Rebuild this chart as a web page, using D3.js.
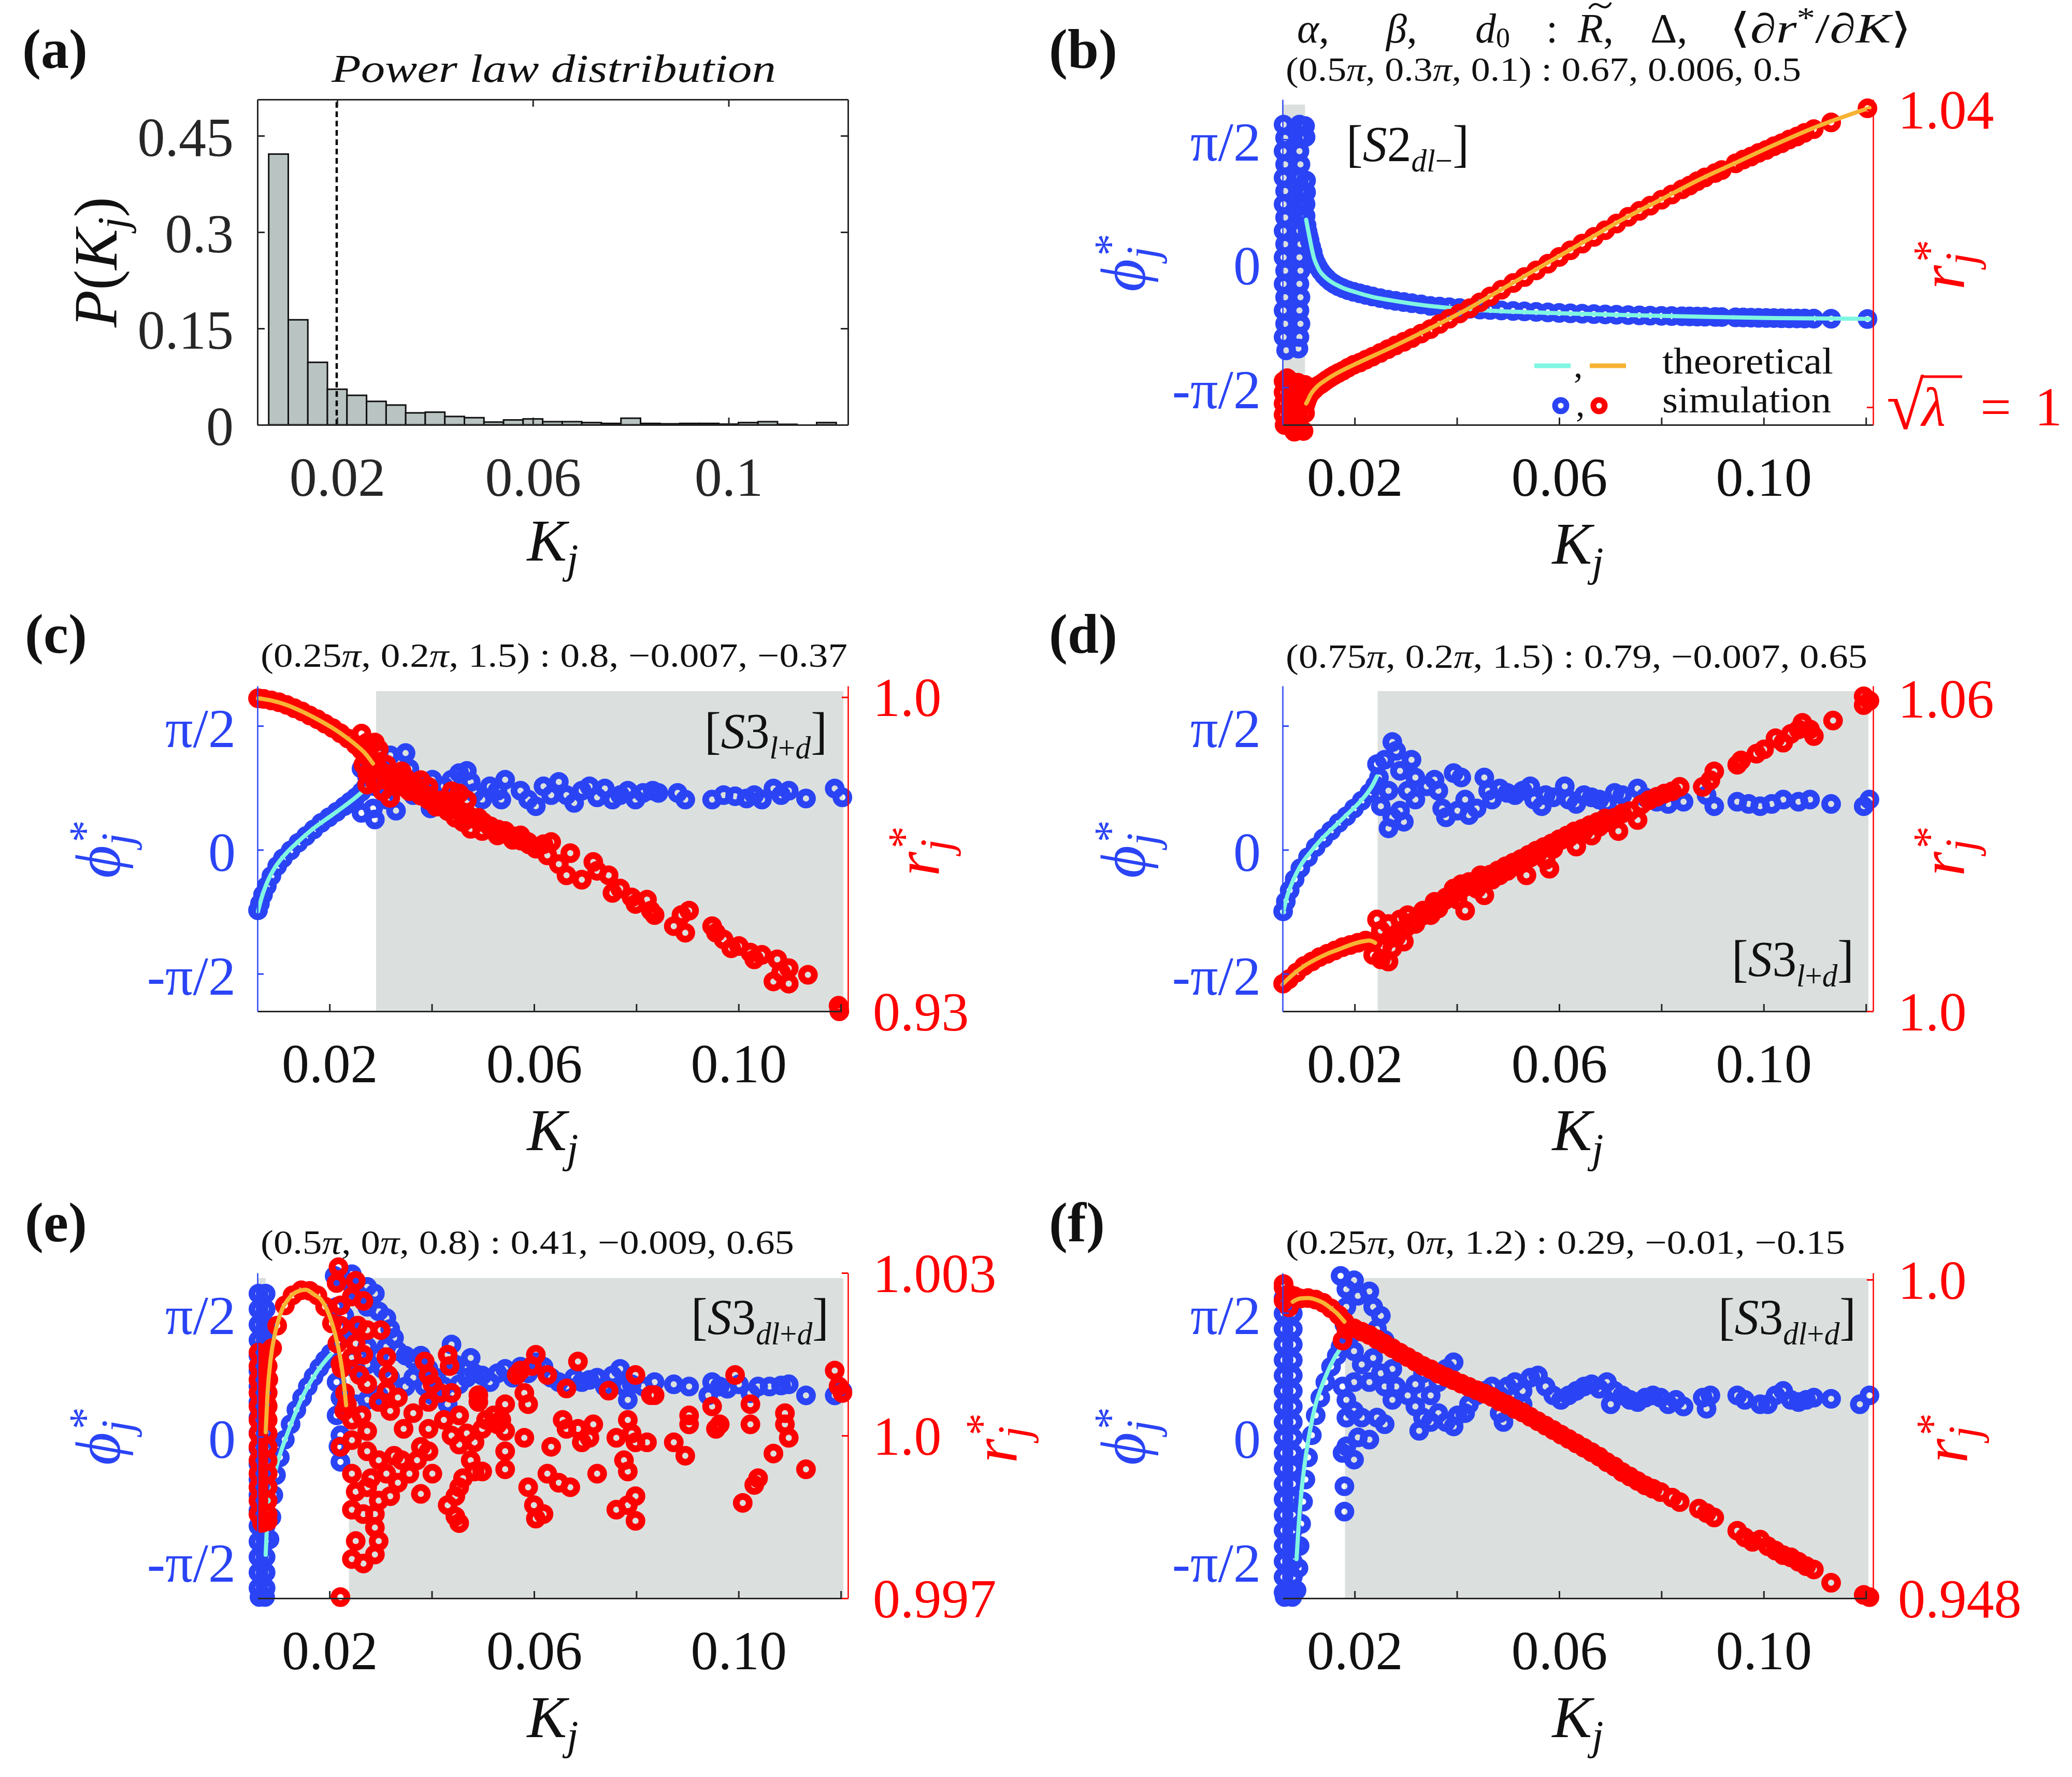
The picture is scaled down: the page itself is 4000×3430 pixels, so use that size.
<!DOCTYPE html>
<html>
<head>
<meta charset="utf-8">
<script src="https://cdn.jsdelivr.net/npm/d3@7/dist/d3.min.js"></script>
<style>
html,body{margin:0;padding:0;background:#fff;}
svg{display:block;}
</style>
</head>
<body>
<svg id="chart" width="4000" height="3430" xmlns="http://www.w3.org/2000/svg"></svg>
<script>
// ======================= DATA =======================
// (a) histogram of coupling strengths
const histBinStart = [0.006,0.010,0.014,0.018,0.022,0.026,0.030,0.034,0.038,0.042,0.046,0.050,0.054,0.058,0.062,0.066,0.070,0.074,0.078,0.082,0.086,0.090,0.094,0.098,0.102,0.106,0.110,0.114,0.118];
const histBinWidth = 0.004;
const histP = [0.4215,0.1635,0.0973,0.0554,0.0459,0.0365,0.0308,0.0186,0.0197,0.0130,0.0111,0.0043,0.0076,0.0092,0.0049,0.0049,0.0035,0.0022,0.0103,0.0022,0.0016,0.0022,0.0022,0.0011,0.0035,0.0049,0.0008,0.0,0.0035];
const histMeanK = 0.0199;
const histKDomain = [0.0037, 0.1244];
const histPDomain = [0, 0.5065];
const histXTicks = [0.02, 0.06, 0.1];
const histYTicks = [0, 0.15, 0.3, 0.45];

// common axes of panels (b)-(f)
const kDomain = [0.0059, 0.1214];
const phiDomain = [-2.046, 2.077];
const kTicks = [0.02, 0.04, 0.06, 0.08, 0.10, 0.12];
const kTickLabelled = [0.02, 0.06, 0.10];
const phiTicks = [-Math.PI/2, 0, Math.PI/2];
const phiTickLabels = ["-π/2", "0", "π/2"];
const bandTopPhi = 2.012;

// ---------- (b) ----------
const bSimPhi = [
[0.0061,1.759],[0.0092,1.759],[0.0103,1.74],[0.0064,1.590],[0.0094,1.590],[0.0104,1.60],
[0.0061,1.422],[0.0092,1.422],[0.0064,1.254],[0.0094,1.254],[0.0061,1.086],[0.0092,1.086],[0.0105,1.05],
[0.0064,0.917],[0.0094,0.917],[0.0105,0.90],[0.0061,0.749],[0.0092,0.749],[0.0104,0.75],
[0.0064,0.581],[0.0094,0.581],[0.0061,0.412],[0.0092,0.412],[0.0064,0.244],[0.0094,0.244],
[0.0061,0.076],[0.0092,0.076],[0.0064,-0.093],[0.0094,-0.093],[0.0061,-0.261],[0.0092,-0.261],
[0.0064,-0.429],[0.0094,-0.429],[0.0061,-0.597],[0.0092,-0.597],[0.0064,-0.766],[0.0094,-0.766],
[0.0061,-0.934],[0.0092,-0.934],[0.0066,-1.102],[0.0090,-1.08],
[0.0104,0.60],[0.0106,0.48],[0.0108,0.40],[0.0110,0.34],[0.0112,0.29],[0.0115,0.21],[0.0118,0.14],[0.0121,0.06],[0.0125,0.00],[0.0129,-0.05],[0.0134,-0.10],[0.0140,-0.15],[0.0146,-0.19],[0.0153,-0.23],[0.0160,-0.26],[0.0168,-0.29],[0.0177,-0.315],[0.0187,-0.34],[0.0198,-0.36],[0.0210,-0.38],[0.0222,-0.40],[0.0235,-0.42],[0.0250,-0.44],[0.0265,-0.46],[0.0280,-0.475],[0.0296,-0.49],[0.0312,-0.505],[0.0330,-0.52],[0.0348,-0.54],[0.0366,-0.548],[0.0385,-0.556],[0.0405,-0.566],[0.0425,-0.575],[0.0445,-0.585],[0.0465,-0.59],[0.0487,-0.597],[0.0510,-0.603],[0.0532,-0.609],[0.0555,-0.615],[0.0578,-0.622],[0.0600,-0.628],[0.0622,-0.633],[0.0645,-0.638],[0.0668,-0.643],[0.0690,-0.647],[0.0712,-0.651],[0.0735,-0.655],[0.0757,-0.659],[0.0778,-0.663],[0.0800,-0.665],[0.0820,-0.668],[0.0840,-0.670],[0.0855,-0.672],[0.0870,-0.674],[0.0885,-0.676],[0.0905,-0.679],[0.0918,-0.680],[0.0945,-0.684],[0.0960,-0.686],[0.0975,-0.688],[0.0990,-0.690],[0.1005,-0.692],[0.1020,-0.693],[0.1035,-0.695],[0.1050,-0.697],[0.1065,-0.698],[0.1080,-0.699],[0.1098,-0.700],[0.1132,-0.702],[0.1203,-0.705]
];
const bSimR = [
[0.0061,1.0035],[0.0068,1.0039],[0.0075,1.0035],[0.0089,1.0033],[0.0103,1.0030],
[0.0061,1.0020],[0.0075,1.0020],[0.0089,1.0020],[0.0103,1.0018],
[0.0061,1.0005],[0.0075,1.0005],[0.0089,1.0005],[0.0103,1.0005],
[0.0061,0.9990],[0.0075,0.9990],[0.0089,0.9990],[0.0103,0.9992],
[0.0063,0.9976],[0.0075,0.9975],[0.0089,0.9972],[0.0100,0.9968],[0.0082,0.9967],
[0.0104,1.0004],[0.0106,1.0008],[0.0108,1.0012],[0.0110,1.0015],[0.0112,1.0018],[0.0115,1.0020],[0.0118,1.0022],[0.0121,1.0024],[0.0125,1.0027],[0.0129,1.0029],[0.0134,1.0031],[0.0140,1.0034],[0.0146,1.0037],[0.0153,1.0040],[0.0160,1.0043],[0.0168,1.0046],[0.0177,1.0049],[0.0187,1.0053],[0.0198,1.0057],[0.0210,1.0060],[0.0222,1.0064],[0.0235,1.0068],[0.0250,1.0073],[0.0265,1.0078],[0.0280,1.0083],[0.0296,1.0088],[0.0312,1.0093],[0.0330,1.0099],[0.0348,1.0105],[0.0366,1.0112],[0.0385,1.0119],[0.0405,1.0126],[0.0425,1.0133],[0.0445,1.0141],[0.0465,1.0149],[0.0487,1.0158],[0.0510,1.0167],[0.0532,1.0175],[0.0555,1.0184],[0.0578,1.0193],[0.0600,1.0202],[0.0622,1.0211],[0.0645,1.0220],[0.0668,1.0229],[0.0690,1.0238],[0.0712,1.0247],[0.0735,1.0256],[0.0757,1.0264],[0.0778,1.0271],[0.0800,1.0279],[0.0820,1.0286],[0.0840,1.0293],[0.0855,1.0298],[0.0870,1.0304],[0.0885,1.0309],[0.0905,1.0315],[0.0918,1.0319],[0.0945,1.0328],[0.0960,1.0333],[0.0975,1.0337],[0.0990,1.0342],[0.1005,1.0346],[0.1020,1.0351],[0.1035,1.0355],[0.1050,1.0360],[0.1065,1.0364],[0.1080,1.0369],[0.1098,1.0374],[0.1132,1.0383],[0.1203,1.0402]
];
const bTheoryPhi = [[0.01051,0.553],[0.01090,0.42],[0.01126,0.300],[0.01160,0.19],[0.01201,0.0757],[0.01250,-0.01],[0.01313,-0.0926],[0.01400,-0.16],[0.01538,-0.2328],[0.01750,-0.305],[0.01988,-0.359],[0.02350,-0.425],[0.02737,-0.471],[0.03487,-0.541],[0.04236,-0.583],[0.05735,-0.626],[0.07234,-0.654],[0.08733,-0.676],[0.10232,-0.693],[0.12069,-0.704]];
const bTheoryR = [[0.01051,1.00051],[0.01090,1.0010],[0.01126,1.00155],[0.01238,1.00259],[0.01463,1.00378],[0.01763,1.00497],[0.01988,1.00572],[0.02737,1.0081],[0.03487,1.01063],[0.04236,1.01331],[0.04986,1.01629],[0.05735,1.01927],[0.06485,1.02224],[0.07234,1.02522],[0.07984,1.0279],[0.08733,1.03058],[0.09483,1.03297],[0.10232,1.03535],[0.10982,1.03758],[0.12069,1.04026]];

// ---------- (c) ----------
const cSimPhi = [
[0.00601,-0.766],[0.00639,-0.682],[0.00699,-0.569],[0.00774,-0.457],[0.00863,-0.331],[0.00976,-0.205],[0.01088,-0.107],[0.01238,-0.008],[0.01388,0.090],[0.01538,0.174],[0.01688,0.258],[0.01838,0.342],[0.01988,0.412],[0.02138,0.482],[0.02288,0.553],[0.0240,0.609],[0.02512,0.665],[0.02625,0.735],[0.0270,0.791],
[0.02625,1.029],[0.02737,1.086],[0.02962,1.226],[0.03187,1.198],[0.03487,1.226],[0.03562,1.029],[0.03337,0.889],[0.02737,0.917],[0.02887,0.805],[0.02625,0.468],[0.0285,0.525],[0.02887,0.384],[0.0330,0.496],[0.03112,0.637],[0.03637,0.693],[0.03786,0.861],[0.04011,0.889],[0.04086,0.637],[0.03974,0.525],[0.04236,0.805],[0.04386,0.889],[0.04536,0.973],[0.04686,1.001],[0.04761,0.861],[0.04836,0.721],[0.04986,0.637],[0.05136,0.805],[0.05285,0.749],[0.05435,0.889],[0.0536,0.637],[0.05735,0.749],[0.05885,0.637],[0.06035,0.553],[0.06185,0.805],[0.06335,0.693],[0.06485,0.861],[0.06635,0.693],[0.06784,0.595],[0.06934,0.749],[0.07084,0.805],[0.07234,0.665],[0.07384,0.777],[0.07534,0.637],[0.07684,0.693],[0.07834,0.749],[0.07984,0.637],[0.08134,0.721],[0.08321,0.749],[0.08433,0.721],[0.08808,0.721],[0.08958,0.637],[0.09483,0.637],[0.09707,0.693],[0.09932,0.679],[0.10157,0.651],[0.10307,0.693],[0.10457,0.637],[0.10682,0.777],[0.10832,0.693],[0.10982,0.749],[0.11319,0.651],[0.11881,0.777],[0.12031,0.665]
];
const cSimR = [
[0.00601,0.99975],[0.00714,0.99961],[0.00863,0.99926],[0.01013,0.99887],[0.01163,0.99827],[0.01313,0.99754],[0.01463,0.9968],[0.01613,0.99591],[0.01763,0.99507],[0.01913,0.99408],[0.02063,0.9931],[0.02213,0.99196],[0.02362,0.99078],[0.02512,0.9894],[0.02625,0.98817],[0.02737,0.98669],[0.02812,0.98546],
[0.02625,0.99187],[0.02737,0.98989],[0.02887,0.98989],[0.02962,0.98841],[0.02662,0.98496],[0.02737,0.98299],[0.02887,0.98102],[0.02962,0.98398],[0.03112,0.98496],[0.03262,0.98299],[0.03337,0.98003],[0.03037,0.97905],[0.03187,0.97757],[0.03487,0.982],[0.03637,0.98102],[0.03786,0.98151],[0.03936,0.98003],[0.03786,0.97806],[0.03936,0.97708],[0.04086,0.9756],[0.04236,0.97708],[0.04386,0.97905],[0.04536,0.97855],[0.04686,0.97708],[0.04311,0.97461],[0.04461,0.97313],[0.04611,0.97215],[0.04761,0.97067],[0.04911,0.97313],[0.04986,0.97017],[0.05136,0.97116],[0.05285,0.96919],[0.05435,0.97017],[0.05585,0.9682],[0.05735,0.96919],[0.05885,0.96771],[0.06035,0.96623],[0.06185,0.96722],[0.06335,0.96771],[0.0626,0.96475],[0.06485,0.96278],[0.06709,0.96524],[0.06635,0.96031],[0.06934,0.95933],[0.07159,0.96327],[0.07234,0.9613],[0.07459,0.96031],[0.07534,0.95637],[0.07684,0.95736],[0.07909,0.95538],[0.07984,0.95391],[0.08209,0.95489],[0.08284,0.95243],[0.08358,0.95144],[0.08733,0.94897],[0.08883,0.95144],[0.09033,0.95243],[0.08958,0.9475],[0.09483,0.94897],[0.09558,0.9475],[0.09707,0.94602],[0.09857,0.94404],[0.10007,0.94454],[0.10232,0.94306],[0.10307,0.94158],[0.10457,0.94257],[0.10682,0.93665],[0.10757,0.94158],[0.10832,0.93862],[0.10982,0.93616],[0.10982,0.93961],[0.11357,0.93813],[0.11956,0.93123],[0.11971,0.93],
[0.02812,0.98348],[0.03112,0.98151],[0.03412,0.98348],[0.03562,0.97905],[0.02737,0.98052],
[0.0290,0.9845],[0.0305,0.9832],[0.0320,0.9822],[0.0335,0.9815],[0.0350,0.9808],[0.0365,0.9795],[0.0380,0.9788],[0.0395,0.9780],[0.0410,0.9770],[0.0425,0.9762],[0.0440,0.9752],[0.0455,0.9745],[0.0470,0.9738],[0.0485,0.9728],[0.0500,0.9722],[0.0515,0.9712],[0.0530,0.9705],[0.0545,0.9695],[0.0560,0.9690],[0.0575,0.9680],[0.0590,0.9672],[0.0605,0.9665]
];
const cTheoryPhi = [[0.00601,-0.780],[0.00676,-0.597],[0.00788,-0.401],[0.00938,-0.219],[0.01163,-0.036],[0.01388,0.104],[0.01688,0.272],[0.01988,0.412],[0.02288,0.553],[0.02512,0.665],[0.02737,0.791]];
const cTheoryR = [[0.00601,0.99975],[0.00863,0.99926],[0.01163,0.99827],[0.01463,0.9968],[0.01763,0.99507],[0.02063,0.9931],[0.02288,0.99137],[0.02512,0.9894],[0.0270,0.98743],[0.0285,0.98521]];

// ---------- (d) ----------
const dSimPhi = [
[0.00601,-0.780],[0.00654,-0.654],[0.00729,-0.513],[0.00826,-0.373],[0.00938,-0.233],[0.01088,-0.093],[0.01238,0.034],[0.01388,0.146],[0.01538,0.244],[0.01688,0.342],[0.01838,0.426],[0.01988,0.524],[0.02138,0.623],[0.02288,0.721],[0.0240,0.819],[0.02475,0.917],
[0.02437,1.086],[0.02587,1.142],[0.02737,1.366],[0.02812,1.254],[0.02887,1.001],[0.03112,1.142],[0.03187,0.917],[0.03037,0.749],[0.02662,0.749],[0.02512,0.553],[0.02737,0.412],[0.02887,0.496],[0.02962,0.356],[0.02662,0.272],[0.03187,0.637],[0.03412,0.805],[0.03562,0.889],[0.03637,0.749],[0.03712,0.525],[0.03786,0.412],[0.03936,0.973],[0.04086,0.917],[0.04161,0.637],[0.04011,0.496],[0.04236,0.440],[0.04386,0.525],[0.04536,0.917],[0.04611,0.749],[0.04686,0.637],[0.04836,0.777],[0.04986,0.721],[0.05136,0.693],[0.05285,0.749],[0.05435,0.805],[0.0551,0.637],[0.0566,0.553],[0.05735,0.693],[0.05885,0.665],[0.0611,0.805],[0.06185,0.637],[0.06335,0.581],[0.06485,0.693],[0.06635,0.665],[0.06784,0.637],[0.06934,0.581],[0.07084,0.721],[0.07234,0.693],[0.07534,0.777],[0.07684,0.665],[0.07909,0.609],[0.08134,0.581],[0.08433,0.609],[0.08883,0.693],[0.09033,0.553],[0.09483,0.609],[0.09707,0.581],[0.09932,0.553],[0.10157,0.581],[0.10382,0.637],[0.10682,0.609],[0.10907,0.637],[0.11319,0.581],[0.11956,0.553],[0.12069,0.637]
];
const dSimR = [
[0.00601,1.0053],[0.00714,1.00615],[0.00863,1.00742],[0.01013,1.00869],[0.01163,1.00954],[0.01313,1.01039],[0.01463,1.01102],[0.01613,1.01166],[0.01763,1.0123],[0.01913,1.01272],[0.02063,1.01314],[0.02213,1.01357],[0.02362,1.01336],
[0.02362,1.01081],[0.02512,1.00996],[0.02662,1.00954],[0.02737,1.01208],[0.02512,1.01548],[0.02437,1.0176],[0.02662,1.01675],[0.02812,1.0142],[0.02962,1.01336],[0.02887,1.0176],[0.03037,1.01844],[0.03187,1.01675],[0.03337,1.01929],[0.03487,1.01844],[0.03562,1.02099],[0.03637,1.01972],[0.03786,1.02184],[0.03936,1.02353],[0.04011,1.02141],[0.04161,1.01929],[0.04086,1.02438],[0.04236,1.0248],[0.04386,1.02353],[0.04536,1.02226],[0.04461,1.02608],[0.04686,1.02523],[0.04836,1.02608],[0.04986,1.02692],[0.05136,1.02777],[0.05285,1.02862],[0.0536,1.02608],[0.05435,1.02947],[0.05585,1.03032],[0.05735,1.02904],[0.0581,1.02735],[0.05885,1.03116],[0.06035,1.03286],[0.06185,1.03328],[0.06335,1.03159],[0.0641,1.03413],[0.06485,1.03456],[0.06635,1.03371],[0.06784,1.0354],[0.06934,1.03625],[0.07084,1.0371],[0.07159,1.03456],[0.07234,1.03795],[0.07384,1.03837],[0.07534,1.03668],[0.07609,1.03964],[0.07759,1.04049],[0.07909,1.04113],[0.08059,1.04176],[0.08209,1.04219],[0.08358,1.04304],[0.08808,1.04304],[0.08958,1.04431],[0.09033,1.046],[0.09483,1.04728],[0.09558,1.04812],[0.09857,1.0494],[0.10007,1.05024],[0.10232,1.05236],[0.10382,1.05152],[0.10532,1.05321],[0.10682,1.05406],[0.10757,1.05533],[0.10907,1.05406],[0.10982,1.05279],[0.11357,1.05576],[0.11956,1.05872],[0.11956,1.06042],[0.12069,1.05957],
[0.0255,1.0125],[0.0270,1.0140],[0.0285,1.0150],[0.0300,1.0160],[0.0315,1.0172],[0.0330,1.0182],[0.0345,1.0192],[0.0360,1.0205],[0.0375,1.0212],[0.0390,1.0222],[0.0405,1.0230],[0.0420,1.0240],[0.0435,1.0248],[0.0450,1.0255],[0.0465,1.0262],[0.0480,1.0270],[0.0495,1.0278],[0.0510,1.0285],[0.0525,1.0292],[0.0540,1.0300],[0.0555,1.0308],[0.0570,1.0315],[0.0585,1.0322],[0.0600,1.0330],[0.0615,1.0337],[0.0630,1.0345],[0.0645,1.0350],[0.0660,1.0357],[0.0675,1.0363],[0.0690,1.0370]
];
const dTheoryPhi = [[0.00601,-0.794],[0.00676,-0.597],[0.00788,-0.401],[0.00938,-0.205],[0.01163,-0.008],[0.01388,0.160],[0.01613,0.300],[0.01838,0.440],[0.02063,0.581],[0.0225,0.721],[0.02362,0.833],[0.02437,0.931]];
const dTheoryR = [[0.00601,1.0053],[0.00788,1.007],[0.01013,1.00869],[0.01238,1.00996],[0.01463,1.01102],[0.01688,1.01187],[0.01913,1.01272],[0.02138,1.01336],[0.02288,1.01357],[0.0240,1.01314]];

// ---------- (e) ----------
const eSimPhi = [
[0.0061,1.815],[0.0075,1.815],[0.0061,1.618],[0.0075,1.618],[0.0061,1.422],[0.0075,1.422],[0.0061,1.226],[0.0075,1.226],[0.0061,1.029],[0.0075,1.029],[0.0061,0.833],[0.0075,0.833],[0.0061,0.637],[0.0075,0.637],[0.0061,0.440],[0.0075,0.440],[0.0061,0.244],[0.0075,0.244],[0.0061,0.048],[0.0075,0.048],[0.0061,-0.149],[0.0075,-0.149],[0.0061,-0.345],[0.0075,-0.345],[0.0061,-0.541],[0.0075,-0.541],[0.0061,-0.738],[0.0075,-0.738],[0.0061,-0.934],[0.0075,-0.934],[0.0061,-1.130],[0.0075,-1.130],[0.0061,-1.327],[0.0075,-1.327],[0.0061,-1.523],[0.0075,-1.523],[0.0061,-1.719],[0.0075,-1.719],[0.0061,-1.916],[0.0075,-1.916],[0.0063,-2.03],[0.0074,-2.03],
[0.00826,-1.299],[0.00863,-1.018],[0.00901,-0.738],[0.00953,-0.485],[0.01028,-0.261],[0.01126,-0.036],[0.01238,0.160],[0.01351,0.342],[0.01463,0.496],[0.01575,0.637],[0.01688,0.763],[0.0180,0.875],[0.01913,0.973],[0.02025,1.058],
[0.0210,2.039],[0.02288,1.983],[0.02437,2.06],[0.02475,1.871],[0.02587,1.787],[0.02737,1.899],[0.02887,1.815],[0.02737,1.647],[0.02962,1.590],[0.03112,1.506],[0.03187,1.366],[0.03262,1.254],[0.03112,1.142],[0.03337,1.086],[0.02962,1.029],[0.02737,1.142],[0.02437,1.366],[0.02288,1.534],[0.02138,1.647],[0.02213,1.226],[0.02437,1.001],[0.02512,0.861],[0.02737,0.917],[0.03037,0.861],[0.02138,0.693],[0.02213,0.496],[0.02138,0.272],[0.02213,0.020],[0.02213,-0.317],[0.02175,-0.121],[0.02512,0.412],[0.02737,0.468],[0.02962,0.525],[0.03187,0.749],[0.03487,1.029],[0.03637,0.973],[0.03786,1.029],[0.03936,0.861],[0.04086,0.749],[0.04236,0.637],[0.04386,1.170],[0.04461,0.917],[0.04311,0.412],[0.04011,0.525],[0.03861,0.637],[0.03637,0.749],[0.03487,0.637],[0.04536,0.665],[0.04686,0.749],[0.04761,1.001],[0.04836,0.805],[0.04986,0.777],[0.05136,0.693],[0.05285,0.805],[0.05435,0.861],[0.05585,0.749],[0.05735,0.889],[0.05885,0.805],[0.06035,0.945],[0.06185,0.889],[0.06335,0.749],[0.06485,0.693],[0.06635,0.637],[0.06784,0.749],[0.06934,0.693],[0.07084,0.721],[0.07234,0.749],[0.07384,0.637],[0.07534,0.777],[0.07684,0.861],[0.07759,0.637],[0.07834,0.468],[0.07909,0.665],[0.08134,0.637],[0.08358,0.693],[0.08733,0.665],[0.09033,0.637],[0.09408,0.525],[0.09483,0.693],[0.09632,0.637],[0.09782,0.609],[0.10007,0.665],[0.10232,0.553],[0.10382,0.637],[0.10607,0.637],[0.10832,0.651],[0.10982,0.665],[0.11319,0.525],[0.11881,0.525],[0.12031,0.581]
];
const eSimR = [
[0.0061,1.00153],[0.0079,1.00153],[0.0061,1.00128],[0.0079,1.00128],[0.0061,1.00103],[0.0079,1.00103],[0.0061,1.00079],[0.0079,1.00079],[0.0061,1.00054],[0.0079,1.00054],[0.0061,1.00029],[0.0079,1.00029],[0.0061,1.00004],[0.0079,1.00004],[0.0061,0.99979],[0.0079,0.99979],[0.0061,0.99954],[0.0079,0.99954],[0.0061,0.9993],[0.0079,0.9993],[0.0061,0.99905],[0.0079,0.99905],[0.0061,0.9988],[0.0079,0.9988],[0.0061,0.99855],[0.0079,0.99855],[0.0068,0.99839],[0.0079,0.99842],
[0.00751,1.000372],[0.00774,1.000579],[0.00803,1.001035],[0.00878,1.001614],[0.00976,1.002028],[0.01126,1.0024],[0.01276,1.002586],[0.01448,1.002681],[0.01613,1.002669],[0.01763,1.002586],[0.01913,1.002379],[0.02048,1.002069],[0.02153,1.001697],[0.02235,1.001242],[0.02303,1.000786],[0.0234,1.000579],
[0.02175,1.003104],[0.02138,1.002814],[0.02512,1.002855],[0.02437,1.002566],[0.02662,1.002483],[0.02213,1.0024],[0.02213,1.002028],[0.0255,1.002028],[0.02737,1.001945],[0.0300,1.001945],[0.02512,1.001697],[0.02213,1.001324],[0.02437,1.001448],[0.02662,1.00149],[0.02587,1.001117],[0.02737,1.000952],[0.03112,1.001448],[0.03149,1.001117],[0.03112,1.000828],[0.02288,1.000455],[0.02437,1.00029],[0.02625,1.000372],[0.02737,1.000083],[0.02962,1.000621],[0.03187,1.000455],[0.02213,0.999793],[0.02437,0.999917],[0.02737,0.99971],[0.02962,0.999545],[0.02812,0.999214],[0.02437,0.999297],[0.02512,0.998965],[0.02737,0.999048],[0.03112,0.999297],[0.03262,0.999628],[0.03412,0.999545],[0.03337,0.999131],[0.03562,0.999297],[0.03187,0.998883],[0.02962,0.9988],[0.02887,0.998552],[0.02662,0.998552],[0.02437,0.998634],[0.02887,0.998303],[0.02962,0.998055],[0.02512,0.998055],[0.02437,0.997724],[0.02662,0.997641],[0.02887,0.997807],[0.02213,0.997021],
[0.03337,1.000703],[0.03449,1.000124],[0.03637,1.000414],[0.03861,1.001366],[0.03936,1.001117],[0.04011,1.000952],[0.03936,1.000621],[0.04161,1.000786],[0.04236,1.00029],[0.03936,1.000124],[0.03786,0.999793],[0.03936,0.99971],[0.03712,0.999545],[0.04011,0.999297],[0.03786,0.998924],[0.04311,1.00149],[0.04349,1.001283],[0.04386,1.000786],[0.04536,1.000372],[0.04386,1.0],[0.04536,0.999834],[0.04686,1.000041],[0.04836,0.999876],[0.04761,0.999545],[0.04836,0.999338],[0.04986,0.999338],[0.04611,0.999214],[0.04536,0.999048],[0.04461,0.998883],[0.04311,0.998717],[0.04461,0.99851],[0.04536,0.998386],[0.04911,1.000745],[0.04911,1.000621],[0.05061,1.00029],[0.0521,1.000372],[0.05285,1.000207],[0.04986,1.000124],[0.05435,1.000579],[0.05435,1.000083],[0.0536,1.00029],[0.05435,0.99971],[0.05435,0.999379],[0.0581,0.999959],[0.0566,1.001117],[0.05735,1.0012],[0.0581,1.000786],[0.05885,1.000579],[0.06035,1.00149],[0.0596,1.001283],[0.0626,1.001117],[0.05885,0.999048],[0.05997,0.998717],[0.06035,0.998469],[0.06185,0.998552],[0.0626,0.999297],[0.06335,0.999793],[0.06485,0.999131],[0.06709,0.999048],[0.06635,1.000869],[0.0656,1.00029],[0.06635,1.000124],[0.06859,1.000124],[0.06934,0.999876],[0.07159,1.000207],[0.07084,0.999959],[0.07234,0.999297],[0.07459,1.000828],[0.07609,0.999959],[0.07834,1.00029],[0.07909,1.000041],[0.07984,0.999876],[0.08209,0.999876],[0.07759,0.999545],[0.07834,0.999338],[0.07984,1.001117],[0.08284,1.000745],[0.08358,1.000745],[0.07984,0.998883],[0.07834,0.998717],[0.07609,0.998634],[0.07984,0.998428],[0.06859,1.001366],[0.08733,0.999876],[0.08958,0.999628],[0.09033,1.000372],[0.09033,1.000207],[0.09483,1.000538],[0.09632,1.000207],[0.09558,1.000124],[0.09932,1.001117],[0.10232,1.000579],[0.10232,1.000207],[0.10382,0.999214],[0.10307,0.99909],[0.10082,0.998759],[0.10682,0.999669],[0.10907,1.000414],[0.10907,1.000207],[0.10982,0.999959],[0.11319,0.999379],[0.11881,1.0012],[0.11956,1.00091],[0.12031,1.000786]
];
const eTheoryPhi = [[0.00751,-1.495],[0.00774,-1.158],[0.00826,-0.822],[0.00901,-0.541],[0.01013,-0.261],[0.01163,0.020],[0.01313,0.272],[0.01463,0.496],[0.01613,0.679],[0.01763,0.833],[0.01913,0.959],[0.02025,1.043]];
const eTheoryR = [[0.00751,1.000062],[0.00788,1.000786],[0.00848,1.001407],[0.00938,1.001903],[0.01051,1.002276],[0.01201,1.002524],[0.01351,1.002648],[0.01538,1.00269],[0.01688,1.002607],[0.01838,1.002503],[0.01988,1.002235],[0.0210,1.001903],[0.02198,1.00149],[0.02272,1.001035],[0.02325,1.000559]];

// ---------- (f) ----------
const fSimPhi = [
[0.0061,1.759],[0.0079,1.759],[0.0061,1.562],[0.0079,1.562],[0.0061,1.366],[0.0079,1.366],[0.0061,1.170],[0.0079,1.170],[0.0061,0.973],[0.0079,0.973],[0.0061,0.777],[0.0079,0.777],[0.0061,0.581],[0.0079,0.581],[0.0061,0.384],[0.0079,0.384],[0.0061,0.188],[0.0079,0.188],[0.0061,-0.008],[0.0079,-0.008],[0.0061,-0.205],[0.0079,-0.205],[0.0061,-0.401],[0.0079,-0.401],[0.0061,-0.597],[0.0079,-0.597],[0.0061,-0.794],[0.0079,-0.794],[0.0061,-0.990],[0.0079,-0.990],[0.0061,-1.186],[0.0079,-1.186],[0.0061,-1.383],[0.0079,-1.383],[0.0061,-1.579],[0.0079,-1.579],[0.0061,-1.776],[0.0079,-1.776],[0.0061,-1.972],[0.0079,-1.972],[0.0063,-2.03],[0.0078,-2.03],
[0.00863,-1.944],[0.00901,-1.663],[0.00923,-1.383],[0.00953,-1.102],[0.00991,-0.822],[0.01036,-0.541],[0.01088,-0.261],[0.01163,0.020],[0.01238,0.272],[0.01328,0.496],[0.01426,0.693],[0.01538,0.889],[0.0165,1.029],[0.01725,1.142],
[0.01725,2.039],[0.01988,1.983],[0.01838,1.871],[0.02063,1.787],[0.02288,1.843],[0.02362,1.647],[0.02512,1.534],[0.02437,1.366],[0.02587,1.226],[0.01838,1.647],[0.0180,1.422],[0.01913,1.282],[0.01988,1.086],[0.02138,0.917],[0.02362,1.001],[0.02512,0.805],[0.02737,0.861],[0.02587,0.637],[0.02288,0.693],[0.01988,0.693],[0.01763,0.637],[0.01838,0.468],[0.01988,0.328],[0.01838,0.244],[0.02138,0.244],[0.02437,0.244],[0.02587,0.160],[0.02063,-0.008],[0.02288,-0.036],[0.01838,-0.121],[0.01988,-0.289],[0.01763,-0.205],[0.0180,-0.626],[0.0180,-0.948],[0.02737,0.468],[0.02812,0.637],[0.03037,0.525],[0.03187,0.384],[0.03337,0.244],[0.03262,0.076],[0.03487,0.188],[0.03637,0.300],[0.03786,0.188],[0.03936,0.132],[0.04011,0.272],[0.04161,0.300],[0.03487,0.525],[0.03637,0.693],[0.03786,0.861],[0.03936,0.945],[0.03337,0.805],[0.03187,0.665],[0.04236,0.412],[0.04386,0.525],[0.04536,0.581],[0.04686,0.637],[0.04836,0.525],[0.04986,0.637],[0.05136,0.693],[0.05285,0.581],[0.05435,0.749],[0.05585,0.777],[0.05735,0.637],[0.05885,0.525],[0.06035,0.468],[0.06185,0.525],[0.06335,0.581],[0.06485,0.637],[0.06635,0.665],[0.06784,0.609],[0.06934,0.693],[0.07084,0.581],[0.07009,0.412],[0.07234,0.525],[0.07384,0.468],[0.07534,0.440],[0.07684,0.496],[0.07834,0.525],[0.07984,0.496],[0.08134,0.412],[0.08284,0.468],[0.08433,0.384],[0.08808,0.496],[0.08958,0.525],[0.08883,0.356],[0.09483,0.525],[0.09632,0.468],[0.09932,0.412],[0.10082,0.412],[0.10232,0.525],[0.10382,0.581],[0.10532,0.468],[0.10682,0.440],[0.10832,0.468],[0.10982,0.496],[0.11319,0.482],[0.11881,0.412],[0.12069,0.525],[0.04836,0.300],[0.04911,0.188],[0.05136,0.384],[0.05285,0.412]
];
const fSimR = [
[0.0061,0.99874],[0.0061,0.99657],[0.0061,0.99928],[0.00714,0.99765],[0.00714,0.99549],[0.00826,0.99729],[0.00938,0.99693],[0.01088,0.997],[0.01238,0.99675],[0.01388,0.99621],[0.01538,0.99531],[0.01688,0.99422],[0.0180,0.99314],[0.01838,0.99188],[0.01763,0.99007],
[0.01838,0.9926],[0.01988,0.99206],[0.02138,0.99151],[0.02288,0.99097],[0.02437,0.99025],[0.02587,0.98953],[0.02737,0.98881],[0.02887,0.98808],[0.03037,0.98736],[0.03187,0.98664],[0.03337,0.98592],[0.03487,0.98538],[0.03637,0.98465],[0.03786,0.98411],[0.03936,0.98357],[0.04086,0.98303],[0.04236,0.98249],[0.04386,0.98195],[0.04536,0.9814],[0.04686,0.98086],[0.04836,0.98014],[0.04986,0.9796],[0.05136,0.97888],[0.05285,0.97833],[0.05435,0.97761],[0.05585,0.97689],[0.05735,0.97617],[0.05885,0.97545],[0.06035,0.97472],[0.06185,0.974],[0.06335,0.97328],[0.06485,0.97256],[0.06635,0.97184],[0.06784,0.97111],[0.06934,0.97021],[0.07084,0.96949],[0.07234,0.96858],[0.07384,0.96786],[0.07534,0.96714],[0.07684,0.96642],[0.07834,0.96588],[0.07984,0.96533],[0.08209,0.96443],[0.08358,0.96371],[0.08733,0.96263],[0.08883,0.9619],[0.09033,0.96118],[0.09483,0.95902],[0.09632,0.95793],[0.09782,0.95721],[0.09932,0.95757],[0.10082,0.95649],[0.10232,0.95577],[0.10382,0.95504],[0.10532,0.95468],[0.10682,0.95396],[0.10832,0.95324],[0.10982,0.9527],[0.11319,0.95053],[0.11956,0.94854],[0.12069,0.94818]
];
const fTheoryPhi = [[0.00863,-1.551],[0.00901,-1.158],[0.00953,-0.738],[0.01028,-0.317],[0.01126,0.076],[0.01238,0.412],[0.01388,0.693],[0.01538,0.917],[0.01688,1.086],[0.01763,1.156]];
const fTheoryR = [[0.00788,0.99639],[0.00938,0.99693],[0.01088,0.997],[0.01238,0.99675],[0.01388,0.99621],[0.01538,0.99531],[0.01688,0.99422],[0.0180,0.99314]];

// Panel annotations
const headers = {
  b: "(0.5π, 0.3π, 0.1) : 0.67, 0.006, 0.5",
  c: "(0.25π, 0.2π, 1.5) : 0.8, −0.007, −0.37",
  d: "(0.75π, 0.2π, 1.5) : 0.79, −0.007, 0.65",
  e: "(0.5π, 0π, 0.8) : 0.41, −0.009, 0.65",
  f: "(0.25π, 0π, 1.2) : 0.29, −0.01, −0.15"
};

// ======================= DRAWING =======================
const svg = d3.select("#chart");
const FONT = "'Liberation Serif','Times New Roman','DejaVu Serif',serif";
const BLUE = "#2a44f5", RED = "#ff0000", CYAN = "#80f6e2", ORANGE = "#f7b334",
      GRAY = "#dbe0df", DARK = "#262626", BARFILL = "#b9c3c1";
const PW = 1140, PH = 628;
const MR = 12.5, MSW = 13;
const TFS = 106;

svg.append("rect").attr("width", 4000).attr("height", 3430).attr("fill", "#fff");

function rich(parent, x, y, size, parts, attrs) {
  const t = parent.append("text").attr("x", x).attr("y", y)
    .attr("font-size", size).attr("font-family", FONT);
  if (attrs) for (const k in attrs) t.attr(k, attrs[k]);
  parts.forEach(p => {
    const s = (typeof p === "string") ? {t: p} : p;
    const ts = t.append("tspan").text(s.t);
    if (s.i) ts.attr("font-style", "italic");
    if (s.b) ts.attr("font-weight", "bold");
    if (s.s) ts.attr("font-size", s.s);
    if (s.dy !== undefined) ts.attr("dy", s.dy);
    if (s.dx !== undefined) ts.attr("dx", s.dx);
  });
  return t;
}
function piParts(str) {
  const out = [];
  str.split("π").forEach((seg, i, arr) => {
    if (seg.length) out.push(seg);
    if (i < arr.length - 1) out.push({t: "π", i: 1});
  });
  return out;
}
function styleAxis(sel, color, fs) {
  sel.attr("color", color).attr("font-family", FONT).attr("font-size", fs);
  sel.select(".domain").attr("stroke-width", 3);
  sel.selectAll(".tick line").attr("stroke-width", 3);
}

// ---------- Panel (a) ----------
(function () {
  const L = 497, T = 192, R = L + PW, B = T + PH;
  const x = d3.scaleLinear().domain(histKDomain).range([L, R]);
  const y = d3.scaleLinear().domain(histPDomain).range([B, T]);
  const g = svg.append("g");
  g.selectAll("rect.bar").data(histBinStart).join("rect").attr("class", "bar")
    .attr("x", d => x(d)).attr("width", d => x(d + histBinWidth) - x(d))
    .attr("y", (d, i) => y(histP[i])).attr("height", (d, i) => B - y(histP[i]))
    .attr("fill", BARFILL).attr("stroke", "#111").attr("stroke-width", 3);
  g.append("line").attr("x1", x(histMeanK)).attr("x2", x(histMeanK))
    .attr("y1", B).attr("y2", T).attr("stroke", "#000").attr("stroke-width", 4.5)
    .attr("stroke-dasharray", "11,7");
  const ax1 = g.append("g").attr("transform", `translate(0,${B})`)
    .call(d3.axisBottom(x).tickValues(histXTicks).tickSize(-14).tickSizeOuter(0).tickPadding(62).tickFormat(d => String(d)));
  styleAxis(ax1, DARK, TFS);
  const ax2 = g.append("g").attr("transform", `translate(0,${T})`)
    .call(d3.axisTop(x).tickValues(histXTicks).tickSize(-14).tickSizeOuter(0).tickFormat(""));
  styleAxis(ax2, DARK, TFS);
  const ax3 = g.append("g").attr("transform", `translate(${L},0)`)
    .call(d3.axisLeft(y).tickValues(histYTicks).tickSize(-14).tickSizeOuter(0).tickPadding(46).tickFormat(d => String(d)));
  styleAxis(ax3, DARK, TFS);
  ax3.selectAll("text").attr("dy", "0.36em");
  const ax4 = g.append("g").attr("transform", `translate(${R},0)`)
    .call(d3.axisRight(y).tickValues(histYTicks).tickSize(-14).tickSizeOuter(0).tickFormat(""));
  styleAxis(ax4, DARK, TFS);
  rich(g, 640, 158, 76, [{t: "Power law distribution", i: 1}], {textLength: 858, lengthAdjust: "spacingAndGlyphs", fill: "#111"});
  rich(g, L + 570, 1082, 115, [{t: "K", i: 1}, {t: "j", i: 1, s: 80, dy: 24}], {"text-anchor": "middle", fill: "#111"});
  rich(g, 0, 38, 118, [{t: "P", i: 1}, "(", {t: "K", i: 1}, {t: "j", i: 1, s: 82, dy: 20}, {t: ")", dy: -20}],
    {"text-anchor": "middle", fill: "#111", transform: `translate(187,506) rotate(-90)`});
})();

// ---------- Panels (b)-(f) ----------
const panels = [
  {key: "b", L: 2476, T: 192, rDomain: [0.99763, 1.04139], rTicks: [1, 1.04], rLabels: ["", "1.04"],
   bands: [[0.0059, 0.0103]], simPhi: bSimPhi, simR: bSimR, thPhi: bTheoryPhi, thR: bTheoryR, rLabDX: 145,
   head: {x: 2482, y: 156, len: 995},
   regime: {x0: 2599, x1: 2836, base: 311, main: "2", sub: [{t: "dl", i: 1}, {t: "−"}]}},
  {key: "c", L: 497, T: 1324, rDomain: [0.93, 1.0025], rTicks: [0.93, 1.0], rLabels: ["0.93", "1.0"],
   bands: [[0.0291, 0.1205]], simPhi: cSimPhi, simR: cSimR, thPhi: cTheoryPhi, thR: cTheoryR, rLabDX: 145,
   head: {x: 503, y: 1287, len: 1133},
   regime: {x0: 1360, x1: 1597, base: 1444, main: "3", sub: [{t: "l", i: 1}, {t: "+"}, {t: "d", i: 1}]}},
  {key: "d", L: 2476, T: 1324, rDomain: [1.0, 1.0624], rTicks: [1.0, 1.06], rLabels: ["1.0", "1.06"],
   bands: [[0.0245, 0.1205]], simPhi: dSimPhi, simR: dSimR, thPhi: dTheoryPhi, thR: dTheoryR, rLabDX: 145,
   head: {x: 2482, y: 1289, len: 1123},
   regime: {x0: 3343, x1: 3579, base: 1884, main: "3", sub: [{t: "l", i: 1}, {t: "+"}, {t: "d", i: 1}]}},
  {key: "e", L: 497, T: 2457, rDomain: [0.997, 1.003], rTicks: [0.997, 1.0, 1.003], rLabels: ["0.997", "1.0", "1.003"],
   bands: [[0.0059, 0.0075], [0.0238, 0.1205]], simPhi: eSimPhi, simR: eSimR, thPhi: eTheoryPhi, thR: eTheoryR, rLabDX: 295,
   head: {x: 503, y: 2420, len: 1030},
   regime: {x0: 1334, x1: 1600, base: 2575, main: "3", sub: [{t: "dl", i: 1}, {t: "+"}, {t: "d", i: 1}]}},
  {key: "f", L: 2476, T: 2457, rDomain: [0.948, 1.0011], rTicks: [0.948, 1.0], rLabels: ["0.948", "1.0"],
   bands: [[0.0059, 0.0077], [0.0181, 0.1205]], simPhi: fSimPhi, simR: fSimR, thPhi: fTheoryPhi, thR: fTheoryR, rLabDX: 151,
   head: {x: 2482, y: 2420, len: 1080},
   regime: {x0: 3317, x1: 3583, base: 2575, main: "3", sub: [{t: "dl", i: 1}, {t: "+"}, {t: "d", i: 1}]}}
];

panels.forEach(p => {
  const L = p.L, T = p.T, R = L + PW, B = T + PH;
  const x = d3.scaleLinear().domain(kDomain).range([L, R]);
  const yP = d3.scaleLinear().domain(phiDomain).range([B, T]);
  const yR = d3.scaleLinear().domain(p.rDomain).range([B, T]);
  const g = svg.append("g").attr("class", "panel-" + p.key);

  g.selectAll("rect.band").data(p.bands).join("rect").attr("class", "band")
    .attr("x", d => x(d[0])).attr("width", d => x(d[1]) - x(d[0]))
    .attr("y", yP(bandTopPhi)).attr("height", B - yP(bandTopPhi)).attr("fill", GRAY);

  g.append("g").selectAll("circle").data(p.simPhi).join("circle")
    .attr("cx", d => x(d[0])).attr("cy", d => yP(d[1])).attr("r", MR)
    .attr("fill", "none").attr("stroke", BLUE).attr("stroke-width", MSW);
  g.append("path").datum(p.thPhi)
    .attr("d", d3.line().x(d => x(d[0])).y(d => yP(d[1])).curve(d3.curveMonotoneX))
    .attr("fill", "none").attr("stroke", CYAN).attr("stroke-width", 8).attr("stroke-linecap", "round");
  g.append("g").selectAll("circle").data(p.simR).join("circle")
    .attr("cx", d => x(d[0])).attr("cy", d => yR(d[1])).attr("r", MR)
    .attr("fill", "none").attr("stroke", RED).attr("stroke-width", MSW);
  g.append("path").datum(p.thR)
    .attr("d", d3.line().x(d => x(d[0])).y(d => yR(d[1])).curve(d3.curveMonotoneX))
    .attr("fill", "none").attr("stroke", ORANGE).attr("stroke-width", 8).attr("stroke-linecap", "round");

  const axB = g.append("g").attr("transform", `translate(0,${B})`)
    .call(d3.axisBottom(x).tickValues(kTicks).tickSize(-14).tickSizeOuter(0).tickPadding(62)
      .tickFormat(d => kTickLabelled.some(v => Math.abs(v - d) < 1e-9) ? d.toFixed(2) : ""));
  styleAxis(axB, DARK, TFS);
  axB.selectAll("text").attr("fill", "#111");
  const axL = g.append("g").attr("transform", `translate(${L},0)`)
    .call(d3.axisLeft(yP).tickValues(phiTicks).tickSize(-12).tickSizeOuter(0).tickPadding(42)
      .tickFormat((d, i) => phiTickLabels[i]));
  styleAxis(axL, BLUE, TFS);
  axL.select(".domain").attr("stroke-width", 2.5);
  axL.selectAll("text").attr("dy", "0.38em");
  const axR = g.append("g").attr("transform", `translate(${R},0)`)
    .call(d3.axisRight(yR).tickValues(p.rTicks).tickSize(-12).tickSizeOuter(0).tickPadding(48)
      .tickFormat((d, i) => p.rLabels[i]));
  styleAxis(axR, RED, TFS);
  axR.select(".domain").attr("stroke-width", 2.5);
  axR.selectAll("text").attr("dy", "0.34em");

  rich(g, L + 570, B + 268, 115, [{t: "K", i: 1}, {t: "j", i: 1, s: 80, dy: 24}], {"text-anchor": "middle", fill: "#111"});
  rich(g, 0, 36, 122, [{t: "ϕ", i: 1}, {t: "j", i: 1, s: 86, dy: 24}, {t: "*", s: 86, dx: -18, dy: -62}],
    {"text-anchor": "middle", fill: BLUE, transform: `translate(${L - 302},${T + 315}) rotate(-90)`});
  rich(g, 0, 30, 122, [{t: "r", i: 1}, {t: "j", i: 1, s: 86, dy: 24}, {t: "*", s: 86, dx: -18, dy: -62}],
    {"text-anchor": "middle", fill: RED, transform: `translate(${R + p.rLabDX},${T + 319}) rotate(-90)`});

  rich(g, p.head.x, p.head.y, 66, piParts(headers[p.key]),
    {textLength: p.head.len, lengthAdjust: "spacingAndGlyphs", fill: "#111"});

  const rg = p.regime;
  const subParts = rg.sub.map((s, i) => Object.assign({s: 62}, s, i === 0 ? {dy: 20} : {}));
  rich(g, rg.x0, rg.base, 100, ["[", {t: "S", i: 1, s: 98}, {t: rg.main, s: 98}].concat(subParts).concat([{t: "]", dy: -20}]),
    {fill: "#111", textLength: rg.x1 - rg.x0, lengthAdjust: "spacingAndGlyphs"});

  if (p.key === "b") {
    const yb = yR(1);
    g.append("text").attr("x", R + 26).attr("y", yb + 42).attr("font-size", 132).attr("font-family", FONT).attr("fill", RED).text("√");
    g.append("text").attr("x", R + 94).attr("y", yb + 35).attr("font-size", 106).attr("font-family", FONT).attr("font-style", "italic").attr("fill", RED).text("λ");
    g.append("line").attr("x1", R + 92).attr("x2", R + 172).attr("y1", yb - 59).attr("y2", yb - 59).attr("stroke", RED).attr("stroke-width", 5);
    g.append("text").attr("x", R + 207).attr("y", yb + 35).attr("font-size", 106).attr("font-family", FONT).attr("fill", RED).text("=");
    g.append("text").attr("x", R + 312).attr("y", yb + 35).attr("font-size", 106).attr("font-family", FONT).attr("fill", RED).text("1");
    // legend
    g.append("line").attr("x1", 2962).attr("x2", 3032).attr("y1", 706).attr("y2", 706).attr("stroke", CYAN).attr("stroke-width", 9);
    g.append("line").attr("x1", 3069).attr("x2", 3139).attr("y1", 706).attr("y2", 706).attr("stroke", ORANGE).attr("stroke-width", 9);
    rich(g, 3038, 728, 70, [","], {fill: "#111"});
    rich(g, 3209, 721, 72, ["theoretical"], {textLength: 330, lengthAdjust: "spacingAndGlyphs", fill: "#111"});
    g.append("circle").attr("cx", 3013).attr("cy", 783).attr("r", 11).attr("fill", "none").attr("stroke", BLUE).attr("stroke-width", 11);
    g.append("circle").attr("cx", 3087).attr("cy", 783).attr("r", 11).attr("fill", "none").attr("stroke", RED).attr("stroke-width", 11);
    rich(g, 3042, 803, 70, [","], {fill: "#111"});
    rich(g, 3209, 796, 72, ["simulation"], {textLength: 326, lengthAdjust: "spacingAndGlyphs", fill: "#111"});
    // header line 1
    rich(g, 2504, 82, 80, [{t: "α", i: 1}, ","], {fill: "#111"});
    rich(g, 2676, 82, 80, [{t: "β", i: 1}, ","], {fill: "#111"});
    rich(g, 2848, 82, 80, [{t: "d", i: 1}, {t: "0", s: 54, dy: 9}], {fill: "#111"});
    rich(g, 2985, 82, 80, [":"], {fill: "#111"});
    rich(g, 3046, 82, 80, [{t: "R", i: 1}, ","], {fill: "#111"});
    g.append("path").attr("d", "M3068,17 C3074,6 3082,6 3089,11 C3096,16 3104,16 3110,5")
      .attr("fill", "none").attr("stroke", "#111").attr("stroke-width", 4);
    rich(g, 3186, 82, 80, ["Δ,"], {fill: "#111"});
    rich(g, 3339, 82, 80, ["⟨∂", {t: "r", i: 1}, {t: "*", s: 56, dy: -28}, {t: "/∂", dy: 28}, {t: "K", i: 1}, "⟩"],
      {fill: "#111", textLength: 351, lengthAdjust: "spacingAndGlyphs"});
  }
});

[["(a)", 43, 131], ["(b)", 2025, 131], ["(c)", 48, 1260], ["(d)", 2025, 1260], ["(e)", 48, 2396], ["(f)", 2025, 2396]]
  .forEach(([t, x, y]) => rich(svg, x, y, 108, [{t: t, b: 1}], {fill: "#111"}));
</script>
</body>
</html>
